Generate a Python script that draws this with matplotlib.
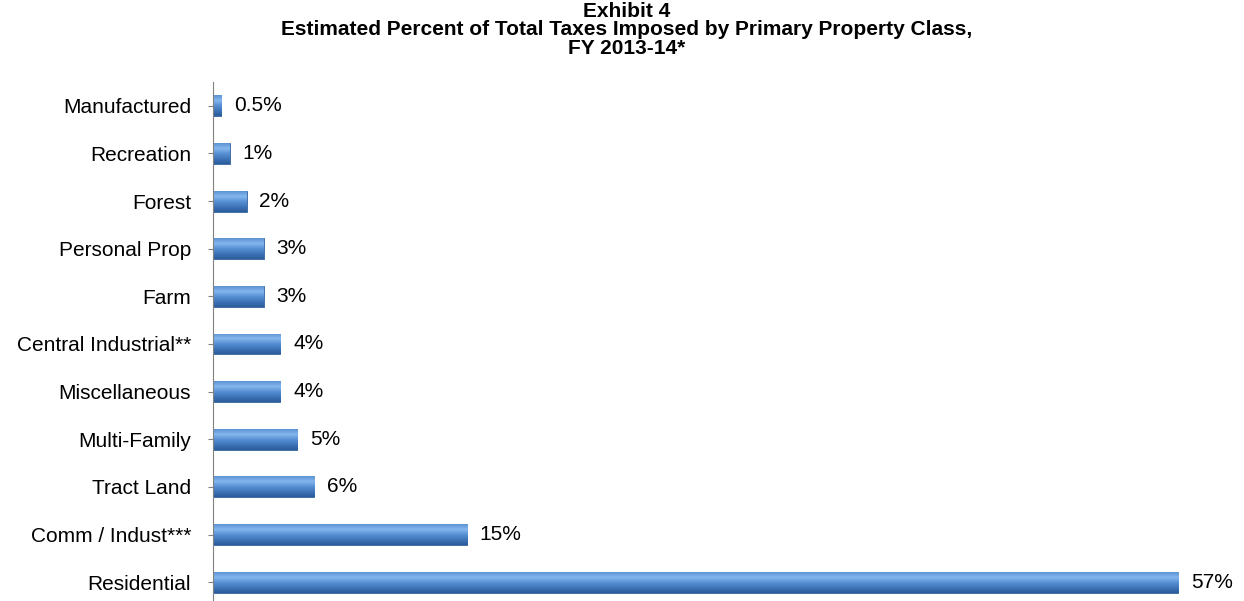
import matplotlib
matplotlib.use('Agg')
import matplotlib.pyplot as plt
import numpy as np
from matplotlib.colors import LinearSegmentedColormap

plt.rcParams['font.family'] = ['Liberation Sans', 'DejaVu Sans']

categories = ['Residential', 'Comm / Indust***', 'Tract Land', 'Multi-Family',
              'Miscellaneous', 'Central Industrial**', 'Farm', 'Personal Prop',
              'Forest', 'Recreation', 'Manufactured']
values = [57, 15, 6, 5, 4, 4, 3, 3, 2, 1, 0.5]
value_labels = ['57%', '15%', '6%', '5%', '4%', '4%', '3%', '3%', '2%', '1%', '0.5%']
title_lines = ['Exhibit 4',
               'Estimated Percent of Total Taxes Imposed by Primary Property Class,',
               'FY 2013-14*']

fig = plt.figure(figsize=(12.44, 6.01), dpi=100)
ax = fig.add_axes([0.171, -0.0083, 0.817, 0.8719])

y = np.arange(len(categories))
bars = ax.barh(y, values, height=0.44, color='#4A7EBB', edgecolor='#35649E', linewidth=0.6)

# vertical gradient for the 3D look
cmap = LinearSegmentedColormap.from_list('bar', ['#2B5C9A', '#3F75B8', '#5790D4', '#86B7EE', '#5C93D2'])
grad = np.linspace(0, 1, 64).reshape(-1, 1)
for b in bars:
    x0, y0 = b.get_x(), b.get_y()
    w, h = b.get_width(), b.get_height()
    im = ax.imshow(grad, cmap=cmap, aspect='auto', origin='lower',
                   extent=[x0, x0 + w, y0, y0 + h], zorder=2)
    im.set_clip_path(b)

for yi, v, lab in zip(y, values, value_labels):
    ax.text(v + 0.75, yi, lab, va='center', ha='left', fontsize=15)

ax.set_xlim(0, 60)
ax.set_ylim(-0.5, len(categories) - 0.5)
ax.set_yticks(y)
ax.set_yticklabels(categories, fontsize=15)
ax.tick_params(axis='y', direction='inout', length=7, color='#808080', pad=12)
ax.set_xticks([])
for s in ['top', 'right', 'bottom']:
    ax.spines[s].set_visible(False)
ax.spines['left'].set_color('#808080')

for ty, line in zip([0.972, 0.941, 0.910], title_lines):
    fig.text(0.504, ty, line, ha='center', va='baseline', fontsize=15, fontweight='bold')

fig.savefig('out.png', dpi=100)
